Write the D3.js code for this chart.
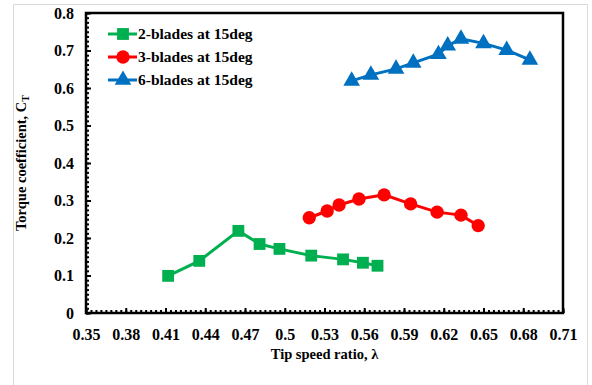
<!DOCTYPE html>
<html>
<head>
<meta charset="utf-8">
<script src="https://cdn.jsdelivr.net/npm/d3@7"></script>
<style>
  body { margin: 0; background: #fff; }
  text { font-family: "Liberation Serif", "Times New Roman", serif; font-weight: bold; fill: #000; }
</style>
</head>
<body>
<svg id="chart" width="592" height="385"></svg>
<script>
// tip speed ratio vs torque coefficient
const seriesNames = ["2-blades at 15deg", "3-blades at 15deg", "6-blades at 15deg"];
const colors = ["#00b050", "#ff0000", "#0070c0"];

const tsr2 = [0.412, 0.4355, 0.465, 0.481, 0.496, 0.520, 0.544, 0.559, 0.570];
const ct2 = [0.099, 0.139, 0.219, 0.184, 0.171, 0.153, 0.143, 0.134, 0.126];

const tsr3 = [0.5185, 0.532, 0.541, 0.556, 0.575, 0.595, 0.615, 0.633, 0.646];
const ct3 = [0.254, 0.272, 0.288, 0.304, 0.315, 0.291, 0.269, 0.261, 0.233];

const tsr6 = [0.5505, 0.565, 0.584, 0.597, 0.616, 0.623, 0.633, 0.650, 0.6675, 0.685];
const ct6 = [0.619, 0.635, 0.651, 0.667, 0.690, 0.713, 0.731, 0.719, 0.701, 0.675];

const xTicks = [0.35, 0.38, 0.41, 0.44, 0.47, 0.5, 0.53, 0.56, 0.59, 0.62, 0.65, 0.68, 0.71];
const yTicks = [0, 0.1, 0.2, 0.3, 0.4, 0.5, 0.6, 0.7, 0.8];

const svg = d3.select("#chart");
const margin = { left: 86, top: 13, right: 29, bottom: 72 };
const W = 592, H = 385;

const x = d3.scaleLinear().domain([0.35, 0.71]).range([margin.left, W - margin.right]);
const y = d3.scaleLinear().domain([0, 0.8]).range([H - margin.bottom, margin.top]);

// light frame round the whole picture
svg.append("path")
  .attr("d", `M13.5,${H} V4.5 H587.5 V${H}`)
  .attr("fill", "none")
  .attr("stroke", "#d9d9d9")
  .attr("stroke-width", 1);

// minor ticks (8 per major step), drawn inside
const xMinor = d3.range(0, 8 * 12 + 1).map(i => 0.35 + i * 0.03 / 8);
const yMinor = d3.range(0, 8 * 8 + 1).map(i => i * 0.1 / 8);

const gx = svg.append("g").attr("transform", `translate(0,${y(0)})`);
gx.call(d3.axisBottom(x).tickValues(xMinor).tickSize(-3).tickFormat(""));
gx.call(g => g.selectAll(".domain").remove());
const gxMajor = svg.append("g").attr("transform", `translate(0,${y(0)})`)
  .call(d3.axisBottom(x).tickValues(xTicks).tickSize(-5).tickPadding(16)
    .tickFormat(d => d3.format("")(+d.toFixed(2))));
gxMajor.select(".domain").remove();

const gy = svg.append("g").attr("transform", `translate(${x(0.35)},0)`);
gy.call(d3.axisLeft(y).tickValues(yMinor).tickSize(-3).tickFormat(""));
gy.call(g => g.selectAll(".domain").remove());
const gyMajor = svg.append("g").attr("transform", `translate(${x(0.35)},0)`)
  .call(d3.axisLeft(y).tickValues(yTicks).tickSize(-5).tickPadding(12)
    .tickFormat(d => d === 0 ? "0" : d3.format(".1f")(d)));
gyMajor.select(".domain").remove();

svg.selectAll(".tick line").attr("stroke", "#000").attr("stroke-width", 2);
svg.selectAll(".tick text")
  .style("font-family", '"Liberation Serif", serif')
  .style("font-weight", "bold")
  .style("font-size", "16px")
  .attr("fill", "#000");

// plot frame
svg.append("rect")
  .attr("x", x(0.35)).attr("y", y(0.8))
  .attr("width", x(0.71) - x(0.35)).attr("height", y(0) - y(0.8))
  .attr("fill", "none").attr("stroke", "#000").attr("stroke-width", 2.5);

// series
const series = [
  { name: seriesNames[0], color: colors[0], shape: d3.symbolSquare, size: 140, xs: tsr2, ys: ct2 },
  { name: seriesNames[1], color: colors[1], shape: d3.symbolCircle, size: 140, xs: tsr3, ys: ct3 },
  { name: seriesNames[2], color: colors[2], shape: d3.symbolTriangle, size: 120, xs: tsr6, ys: ct6 }
];

const line = d3.line().x(d => x(d[0])).y(d => y(d[1]));

series.forEach(s => {
  const pts = s.xs.map((v, i) => [v, s.ys[i]]);
  svg.append("path")
    .datum(pts)
    .attr("d", line)
    .attr("fill", "none")
    .attr("stroke", s.color)
    .attr("stroke-width", 3);
  svg.append("g").selectAll("path")
    .data(pts)
    .join("path")
    .attr("transform", d => `translate(${x(d[0])},${y(d[1])})`)
    .attr("d", d3.symbol(s.shape, s.size))
    .attr("fill", s.color);
});

// legend
const legend = svg.append("g").attr("transform", "translate(108,34)");
series.forEach((s, i) => {
  const row = legend.append("g").attr("transform", `translate(0,${i * 23})`);
  row.append("line").attr("x1", 0).attr("x2", 29).attr("stroke", s.color).attr("stroke-width", 3);
  row.append("path").attr("transform", "translate(15,0)")
    .attr("d", d3.symbol(s.shape, s.size)).attr("fill", s.color);
  row.append("text").attr("x", 30).attr("dy", "0.35em")
    .style("font-size", "15.5px").text(s.name);
});

// axis titles
svg.append("text")
  .attr("x", (x(0.35) + x(0.71)) / 2).attr("y", 359)
  .attr("text-anchor", "middle")
  .style("font-size", "14.5px")
  .text("Tip speed ratio, λ");

const yt = svg.append("text")
  .attr("transform", `translate(26,${(y(0) + y(0.8)) / 2}) rotate(-90)`)
  .attr("text-anchor", "middle")
  .style("font-size", "14.5px");
yt.append("tspan").text("Torque coefficient, C");
yt.append("tspan").attr("dy", 3).style("font-size", "10px").text("T");
</script>
</body>
</html>
